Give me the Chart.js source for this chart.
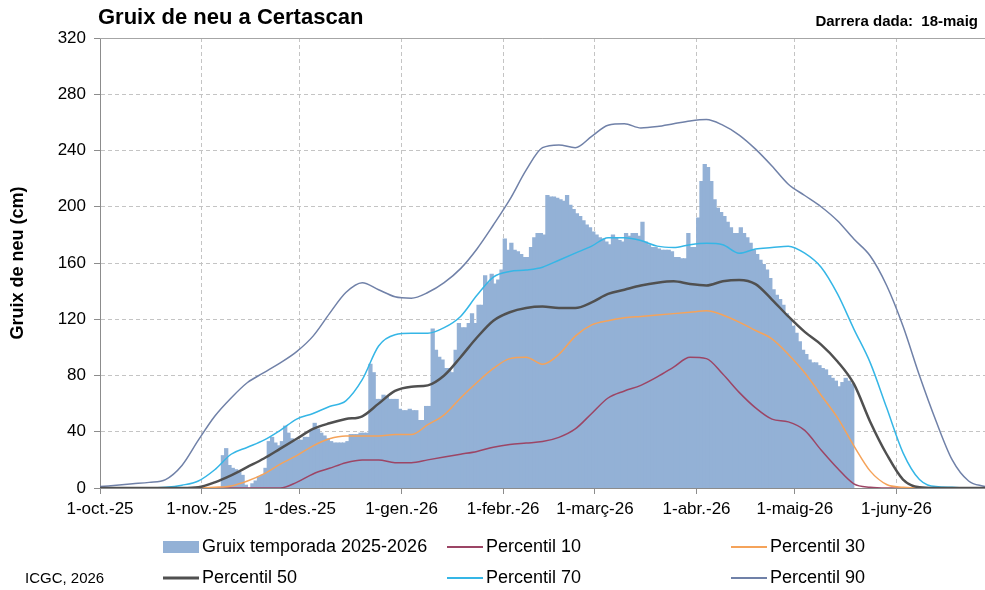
<!DOCTYPE html>
<html>
<head>
<meta charset="utf-8">
<title>Gruix de neu a Certascan</title>
<script src="https://cdn.jsdelivr.net/npm/chart.js@4.4.1/dist/chart.umd.min.js"></script>
<style>
  html, body { margin: 0; padding: 0; background: #fff; }
  #wrap { width: 985px; height: 590px; }
</style>
</head>
<body>
<div id="wrap"><canvas id="snowChart" width="985" height="590"></canvas></div>
<script>
// days counted from 1-oct-2025 (= day 0)
const monthTicks = [0, 31, 61, 92, 123, 151, 182, 212, 243];
const monthLabels = ['1-oct.-25', '1-nov.-25', '1-des.-25', '1-gen.-26', '1-febr.-26', '1-març-26', '1-abr.-26', '1-maig-26', '1-juny-26'];
const yTicks = [0, 40, 80, 120, 160, 200, 240, 280, 320];

// measured snow depth (cm), one value a day, 7-nov-2025 .. 18-maig-2026
const snowFirstDay = 37;
const snowDepth = [
  23, 28, 16, 14, 13, 11, 9, 2, 0, 3,
  5, 8, 9, 14, 33, 36, 32, 30, 33, 44,
  39, 35, 33, 34, 34, 36, 36, 41, 46, 42,
  39, 37, 35, 33, 32, 32, 32, 32, 33, 38,
  38, 38, 39, 39, 39, 88, 82, 63, 63, 66,
  65, 63, 63, 63, 56, 55, 55, 56, 55, 55,
  48, 48, 58, 58, 113, 98, 93, 91, 85, 85,
  82, 98, 117, 114, 114, 117, 124, 117, 130, 130,
  151, 146, 152, 145, 148, 155, 177, 169, 174, 169,
  168, 166, 164, 164, 171, 178, 181, 181, 180, 208,
  207, 207, 206, 205, 204, 208, 201, 198, 195, 193,
  190, 187, 185, 182, 180, 178, 177, 175, 173, 180,
  178, 176, 175, 181, 179, 181, 181, 179, 189, 175,
  173, 171, 171, 170, 169, 169, 169, 168, 164, 164,
  163, 163, 181, 171, 171, 192, 218, 230, 228, 218,
  205, 199, 196, 193, 189, 185, 181, 181, 185, 181,
  178, 174, 169, 166, 162, 159, 155, 149, 141, 137,
  134, 130, 124, 120, 115, 110, 104, 98, 95, 91,
  89, 89, 87, 85, 84, 80, 78, 76, 72, 75,
  78, 76, 74
];

// historical percentiles (cm), read every 5 days
const pctDays = [
  0, 5, 10, 15, 20, 25, 30, 35, 40, 45,
  50, 55, 60, 65, 70, 75, 80, 85, 90, 95,
  100, 105, 110, 115, 120, 125, 130, 135, 140, 145,
  150, 155, 160, 165, 170, 175, 180, 185, 190, 195,
  200, 205, 210, 215, 220, 225, 230, 235, 240, 245,
  250, 255, 260, 265, 270
];
const p10 = [
  0, 0, 0, 0, 0, 0, 0, 0, 0, 0,
  0, 0, 4, 10, 14, 18, 20, 20, 18, 18,
  20, 22, 24, 26, 29, 31, 32, 33, 36, 42,
  53, 64, 69, 73, 79, 86, 93, 92, 81, 68,
  57, 49, 47, 41, 27, 14, 3, 0.5, 0, 0,
  0, 0, 0, 0, 0
];
const p30 = [
  0, 0, 0, 0, 0, 0, 0, 0.5, 1.5, 5,
  10, 17, 23, 30, 35, 37, 37, 37, 38, 38,
  45, 52, 64, 75, 85, 92, 93, 88, 95, 108,
  116, 119, 121, 122, 123, 124, 125, 126, 123, 118,
  112, 106, 95, 82, 66, 50, 30, 12, 2.5, 0.5,
  0, 0, 0, 0, 0
];
const p50 = [
  0, 0, 0, 0, 0, 0, 0.5, 4, 9, 15,
  21, 28, 35, 42, 46, 49, 51, 60, 69, 72,
  73, 80, 93, 107, 119, 125, 128, 129, 128, 128,
  132, 138, 141, 144, 146, 147, 145, 144, 147, 148,
  145, 134, 122, 111, 102, 90, 74, 47, 24, 6,
  0.5, 0, 0, 0, 0
];
const p70 = [
  0, 0, 0, 0, 0.5, 2, 5, 13, 24, 29,
  34, 41, 49, 53, 58, 62, 77, 101, 109, 110,
  110, 114, 122, 137, 150, 154, 155, 157, 162, 167,
  172, 178, 178, 176, 172, 171, 173, 174, 173, 167,
  170, 171, 172, 167, 157, 138, 113, 89, 57, 25,
  6, 1, 0.5, 0, 0
];
const p90 = [
  1, 2, 3, 4, 6, 16, 34, 51, 64, 75,
  82, 89, 97, 108, 124, 139, 146, 141, 136, 135,
  139, 146, 156, 170, 187, 205, 226, 242, 244, 242,
  250, 258, 259, 256, 257, 259, 261, 262, 258, 251,
  241, 229, 216, 208, 200, 190, 177, 165, 144, 115,
  80, 48, 20, 5, 1
];

const FONT = "'Liberation Sans', Arial, sans-serif";

function pctLine(label, values, color, width, order) {
  return {
    type: 'line',
    label: label,
    data: pctDays.map((d, i) => ({ x: d, y: values[i] })),
    borderColor: color,
    backgroundColor: color,
    borderWidth: width,
    pointRadius: 0,
    cubicInterpolationMode: 'monotone',
    fill: false,
    order: order
  };
}

// title, footer and the 3-column legend under the plot
const sheetDecor = {
  id: 'sheetDecor',
  afterDraw(chart) {
    const ctx = chart.ctx;
    const area = chart.chartArea;
    ctx.save();

    // solid top frame line (320 cm)
    ctx.strokeStyle = '#a6a6a6';
    ctx.lineWidth = 1;
    ctx.beginPath();
    ctx.moveTo(area.left, area.top + 0.5);
    ctx.lineTo(area.right, area.top + 0.5);
    ctx.stroke();

    ctx.fillStyle = '#000';
    ctx.textBaseline = 'middle';
    ctx.font = 'bold 22px ' + FONT;
    ctx.textAlign = 'left';
    ctx.fillText('Gruix de neu a Certascan', 98, 18);

    ctx.font = 'bold 15px ' + FONT;
    ctx.textAlign = 'right';
    ctx.fillText('Darrera dada:  18-maig', 978, 22);

    ctx.font = '15px ' + FONT;
    ctx.textAlign = 'left';
    ctx.fillText('ICGC, 2026', 25, 579);

    const cols = [163, 447, 731];
    const rows = [547, 578];
    ctx.font = '18px ' + FONT;
    chart.data.datasets.forEach((ds, i) => {
      const x = cols[i % 3];
      const y = rows[Math.floor(i / 3)];
      if (ds.type === 'bar') {
        ctx.fillStyle = ds.backgroundColor;
        ctx.fillRect(x, y - 6, 36, 12);
      } else {
        ctx.strokeStyle = ds.borderColor;
        ctx.lineWidth = ds.borderWidth > 2 ? 3 : 2;
        ctx.beginPath();
        ctx.moveTo(x, y);
        ctx.lineTo(x + 36, y);
        ctx.stroke();
      }
      ctx.fillStyle = '#000';
      ctx.fillText(ds.label, x + 39, y);
    });
    ctx.restore();
  }
};

const ctx = document.getElementById('snowChart').getContext('2d');

const chart = new Chart(ctx, {
  data: {
    datasets: [
      {
        type: 'bar',
        label: 'Gruix temporada 2025-2026',
        data: snowDepth.map((v, i) => ({ x: snowFirstDay + i + 0.5, y: v })),
        backgroundColor: '#93b1d6',
        borderWidth: 0,
        inflateAmount: 0.5,
        barPercentage: 1.0,
        categoryPercentage: 1.0,
        order: 10
      },
      pctLine('Percentil 10', p10, '#9c4565', 1.5, 5),
      pctLine('Percentil 30', p30, '#f5a35a', 1.5, 4),
      pctLine('Percentil 50', p50, '#505050', 2.5, 1),
      pctLine('Percentil 70', p70, '#35b6e6', 1.5, 3),
      pctLine('Percentil 90', p90, '#7081a8', 1.5, 2)
    ]
  },
  options: {
    responsive: false,
    animation: false,
    devicePixelRatio: 1,
    layout: { padding: { top: 38, right: 0, bottom: 0, left: 0 } },
    plugins: {
      legend: { display: false },
      tooltip: { enabled: false },
      title: { display: false }
    },
    scales: {
      x: {
        type: 'linear',
        min: 0,
        max: 270,
        offset: false,
        afterBuildTicks: (scale) => {
          scale.ticks = monthTicks.map(v => ({ value: v }));
        },
        afterFit: (scale) => { scale.height = 102; },
        ticks: {
          autoSkip: false,
          maxRotation: 0,
          padding: 5,
          color: '#000',
          font: { family: FONT, size: 17 },
          callback: (value) => monthLabels[monthTicks.indexOf(value)]
        },
        grid: {
          offset: false,
          color: '#c4c4c4',
          tickColor: '#8c8c8c',
          tickLength: 6
        },
        border: { color: '#8c8c8c', width: 1, dash: [4, 3] }
      },
      y: {
        min: 0,
        max: 320,
        afterBuildTicks: (scale) => {
          scale.ticks = yTicks.map(v => ({ value: v }));
        },
        afterFit: (scale) => { scale.width = 100; },
        ticks: {
          padding: 8,
          color: '#000',
          font: { family: FONT, size: 17 }
        },
        title: {
          display: true,
          text: 'Gruix de neu (cm)',
          color: '#000',
          font: { family: FONT, size: 18, weight: 'bold' },
          padding: { top: 7, bottom: 0 }
        },
        grid: {
          color: '#c4c4c4',
          tickColor: '#8c8c8c',
          tickLength: 6
        },
        border: { color: '#8c8c8c', width: 1, dash: [4, 3] }
      }
    }
  },
  plugins: [sheetDecor]
});
</script>
</body>
</html>
